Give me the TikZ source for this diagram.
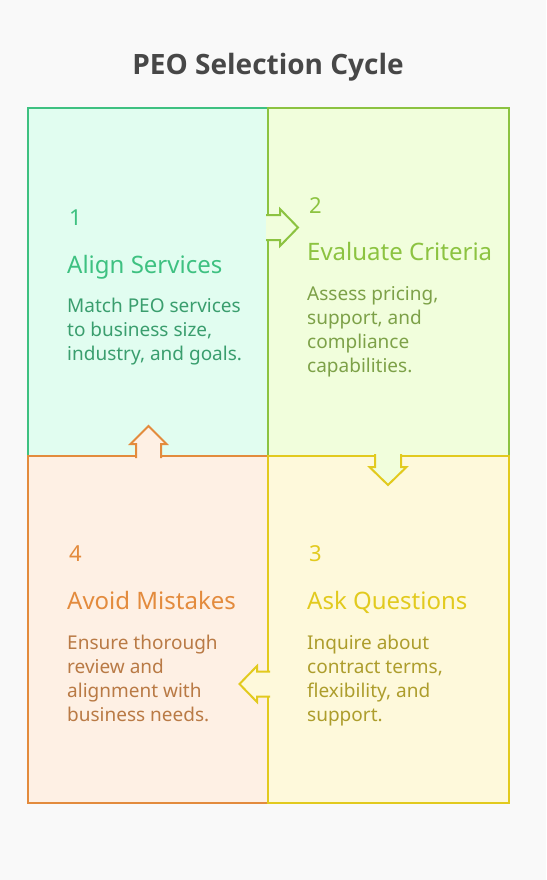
\documentclass[tikz,border=0pt]{standalone}
\usepackage{fontspec}
\setmainfont{Noto Sans}
\newfontfamily\headfont{Open Sans}
\definecolor{bgc}{HTML}{F9F9F9}
\definecolor{headc}{HTML}{474747}
\definecolor{fillA}{HTML}{E1FDF0}
\definecolor{lineA}{HTML}{3EC181}
\definecolor{textA}{HTML}{3A9E6E}
\definecolor{fillB}{HTML}{F1FEDC}
\definecolor{lineB}{HTML}{8CC341}
\definecolor{textB}{HTML}{7DA148}
\definecolor{fillC}{HTML}{FEF9DB}
\definecolor{lineC}{HTML}{E2CA1E}
\definecolor{textC}{HTML}{AD9D2C}
\definecolor{fillD}{HTML}{FEF0E4}
\definecolor{lineD}{HTML}{E38B3D}
\definecolor{textD}{HTML}{B97A45}
\tikzset{
  quad/.style={line width=2pt},
  numtxt/.style={anchor=base west, inner sep=0pt, font=\fontsize{22}{26}\selectfont},
  headtxt/.style={anchor=base west, inner sep=0pt, font=\fontsize{24}{28}\selectfont},
  desctxt/.style={anchor=north west, inner sep=0pt, align=left, font=\fontsize{19}{24}\selectfont},
  turn/.style={line width=2pt, line join=miter}
}
\begin{document}
\begin{tikzpicture}[x=1pt,y=-1pt]
      \fill[bgc] (0,0) rectangle (546,880);
      \useasboundingbox (0,0) rectangle (546,880);
      \node[anchor=base, inner sep=0pt, text=headc, font=\headfont\fontsize{28}{32}\selectfont\bfseries] (head) at (268,75) {PEO Selection Cycle};
      % the four quadrants
      \filldraw[quad, fill=fillA, draw=lineA] (28,108) rectangle (268,456);
      \filldraw[quad, fill=fillB, draw=lineB] (268,108) rectangle (509,456);
      \filldraw[quad, fill=fillD, draw=lineD] (28,456) rectangle (268,803);
      \filldraw[quad, fill=fillC, draw=lineC] (268,456) rectangle (509,803);
      % turning arrows
      \filldraw[turn, fill=fillB, draw=lineB] (266,215) -- (280,215) -- (280,209) -- (298,227.5) -- (280,246) -- (280,240) -- (266,240);
      \filldraw[turn, fill=fillB, draw=lineC] (375,454) -- (375,467) -- (369.5,467) -- (388,485) -- (406.5,467) -- (401,467) -- (401,454);
      \filldraw[turn, fill=fillC, draw=lineC] (270,671.5) -- (257,671.5) -- (257,666) -- (239.5,684) -- (257,702) -- (257,696.5) -- (270,696.5);
      \filldraw[turn, fill=fillD, draw=lineD] (136,458) -- (136,444) -- (130.5,444) -- (148.5,426) -- (166.5,444) -- (161,444) -- (161,458);
      % texts
      \node[numtxt, text=lineA] (num1) at (69,225) {1};
      \node[headtxt, text=lineA] (title1) at (67,273) {Align Services};
      \node[desctxt, text=textA] (desc1) at (67,298) {Match PEO services\\to business size,\\industry, and goals.};
      \node[numtxt, text=lineB] (num2) at (309,213) {2};
      \node[headtxt, text=lineB] (title2) at (307,260) {Evaluate Criteria};
      \node[desctxt, text=textB] (desc2) at (307,286) {Assess pricing,\\support, and\\compliance\\capabilities.};
      \node[numtxt, text=lineC] (num3) at (309,561) {3};
      \node[headtxt, text=lineC] (title3) at (307,609) {Ask Questions};
      \node[desctxt, text=textC] (desc3) at (307,635) {Inquire about\\contract terms,\\flexibility, and\\support.};
      \node[numtxt, text=lineD] (num4) at (69,561) {4};
      \node[headtxt, text=lineD] (title4) at (67,609) {Avoid Mistakes};
      \node[desctxt, text=textD] (desc4) at (67,635) {Ensure thorough\\review and\\alignment with\\business needs.};
\end{tikzpicture}
\end{document}
